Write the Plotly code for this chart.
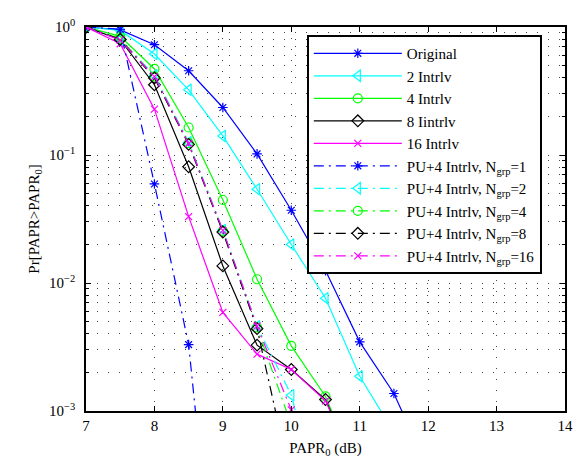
import plotly.graph_objects as go

# ---------------- data ----------------
papr_db = [7, 7.5, 8, 8.5, 9, 9.5, 10, 10.5, 11, 11.5, 12]

original   = [1.0, 0.95, 0.727, 0.455, 0.235, 0.102, 0.037, 0.0125, 0.00347, 0.00137, 0.00035]
intrlv_2   = [1.0, 0.94, 0.615, 0.323, 0.141, 0.054, 0.020, 0.0076, 0.00187, 0.00068]
intrlv_4   = [1.0, 0.845, 0.47, 0.164, 0.0445, 0.0107, 0.00323, 0.0013, 0.0003]
intrlv_8   = [1.0, 0.796, 0.354, 0.081, 0.0136, 0.00327, 0.00211, 0.00123, 0.0003]
intrlv_16  = [1.0, 0.74, 0.228, 0.033, 0.00589, 0.00278, 0.00211, 0.0012, 0.0003]

pu_ngrp_1  = [1.0, 0.96, 0.0594, 0.0033, 8e-6]
pu_ngrp_2  = [1.0, 0.80, 0.42, 0.126, 0.026, 0.0046, 0.00133, 1.2e-4]
pu_ngrp_4  = [1.0, 0.81, 0.41, 0.124, 0.0255, 0.0045, 0.00078, 1e-4]
pu_ngrp_8  = [1.0, 0.80, 0.40, 0.121, 0.025, 0.0044, 0.00028, 3e-5]
pu_ngrp_16 = [1.0, 0.79, 0.41, 0.123, 0.0258, 0.0046, 0.00102, 1e-4]

x_ticks = [7, 8, 9, 10, 11, 12, 13, 14]
y_tickvals = [1, 0.1, 0.01, 0.001]
y_ticktext = ["10<sup>0</sup>", "10<sup>\u22121</sup>", "10<sup>\u22122</sup>", "10<sup>\u22123</sup>"]
y_minor = [k * 10.0 ** e for e in (-3, -2, -1) for k in range(2, 10)]

series = [
    ("Original", original, "#0000ff", "asterisk-open", 8, "solid"),
    ("2 Intrlv", intrlv_2, "#00ffff", "triangle-left-open", 10, "solid"),
    ("4 Intrlv", intrlv_4, "#00ff00", "circle-open", 9, "solid"),
    ("8 Iintrlv", intrlv_8, "#000000", "diamond-open", 9, "solid"),
    ("16 Intrlv", intrlv_16, "#ff00ff", "x-thin-open", 7, "solid"),
    ("PU+4 Intrlv, N<sub>grp</sub>=1", pu_ngrp_1, "#0000ff", "asterisk-open", 8, "10px,5px,2px,5px"),
    ("PU+4 Intrlv, N<sub>grp</sub>=2", pu_ngrp_2, "#00ffff", "triangle-left-open", 10, "10px,5px,2px,5px"),
    ("PU+4 Intrlv, N<sub>grp</sub>=4", pu_ngrp_4, "#00ff00", "circle-open", 9, "10px,5px,2px,5px"),
    ("PU+4 Intrlv, N<sub>grp</sub>=8", pu_ngrp_8, "#000000", "diamond-open", 9, "10px,5px,2px,5px"),
    ("PU+4 Intrlv, N<sub>grp</sub>=16", pu_ngrp_16, "#ff00ff", "x-thin-open", 7, "10px,5px,2px,5px"),
]

FONT = "Liberation Serif, Times New Roman, serif"

fig = go.Figure()
for name, ys, color, sym, size, dash in series:
    fig.add_trace(go.Scatter(
        x=papr_db[:len(ys)], y=ys, name=name, mode="lines+markers",
        line=dict(color=color, width=1.2, dash=dash),
        marker=dict(symbol=sym, size=size, color=color, line=dict(color=color, width=1.2)),
    ))

grid_dash = "1px,10px"
fig.update_layout(
    width=573, height=466,
    margin=dict(l=86, r=8, t=27, b=55),
    paper_bgcolor="white", plot_bgcolor="white",
    font=dict(family=FONT, size=15, color="black"),
    showlegend=True,
    legend=dict(
        x=0.461, y=0.979, xanchor="left", yanchor="top",
        bgcolor="white", bordercolor="black", borderwidth=2,
        font=dict(family=FONT, size=15, color="black"),
        itemwidth=88, tracegroupgap=0,
    ),
    xaxis=dict(
        range=[7, 14], tickmode="array", tickvals=x_ticks,
        ticks="inside", ticklen=5, tickcolor="black",
        showline=True, linecolor="black", linewidth=1.5, mirror="ticks",
        showgrid=True, gridcolor="#444", gridwidth=1, griddash=grid_dash,
        zeroline=False, automargin=False, ticklabeloverflow="allow",
        title=dict(text="PAPR<sub>0</sub> (dB)", font=dict(family=FONT, size=15), standoff=10),
        tickfont=dict(family=FONT, size=15),
    ),
    yaxis=dict(
        type="log", range=[-3, 0], tickmode="array",
        tickvals=y_tickvals, ticktext=y_ticktext,
        ticks="inside", ticklen=5, tickcolor="black",
        showline=True, linecolor="black", linewidth=1.5, mirror="ticks",
        showgrid=True, gridcolor="#444", gridwidth=1, griddash=grid_dash,
        zeroline=False, automargin=False, ticklabeloverflow="allow",
        minor=dict(tickmode="array", tickvals=y_minor, ticks="inside", ticklen=3,
                   tickcolor="black", showgrid=True, gridcolor="#444",
                   gridwidth=1, griddash=grid_dash),
        title=dict(text="Pr[PAPR>PAPR<sub>0</sub>]", font=dict(family=FONT, size=15), standoff=6),
        tickfont=dict(family=FONT, size=15),
        ticklabelstandoff=6,
    ),
)

fig.write_html(
    "out.html",
    config={"displayModeBar": False},
    post_script="document.body.style.margin='0';document.body.style.padding='0';",
)
